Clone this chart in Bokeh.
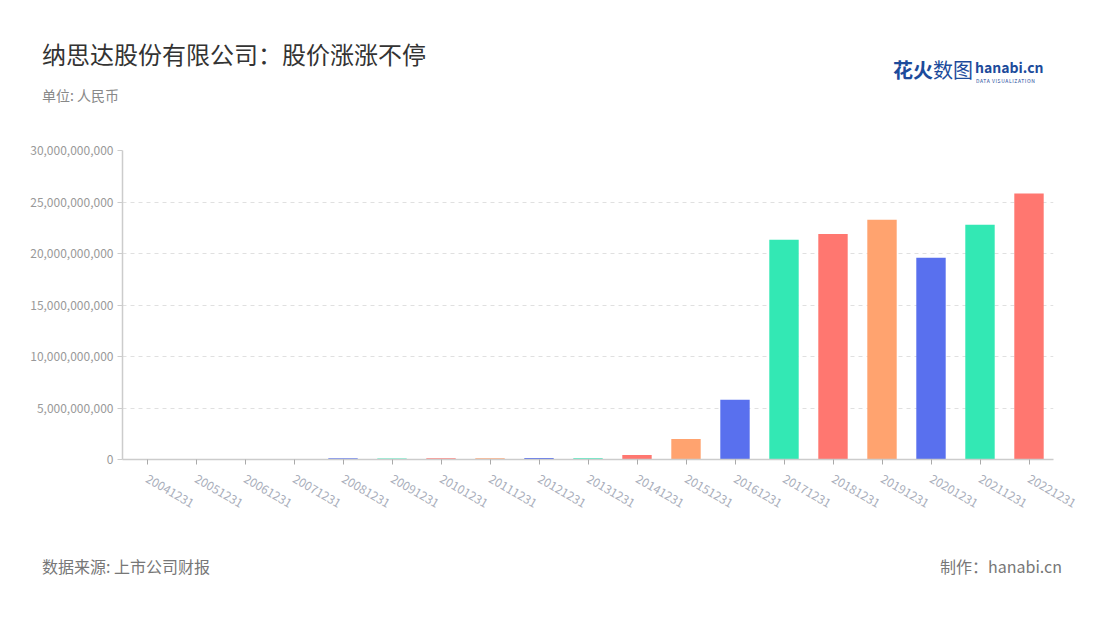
import math
from bokeh.plotting import figure
from bokeh.layouts import column
from bokeh.models import (ColumnDataSource, FactorRange, Range1d, FixedTicker,
                          NumeralTickFormatter, Div)
from bokeh.embed import file_html
from bokeh.resources import INLINE

# ---- data ----
dates = ["20041231", "20051231", "20061231", "20071231", "20081231", "20091231",
         "20101231", "20111231", "20121231", "20131231", "20141231", "20151231",
         "20161231", "20171231", "20181231", "20191231", "20201231", "20211231",
         "20221231"]
values = [0.05e9, 0.04e9, 0.05e9, 0.06e9, 0.12e9, 0.10e9, 0.11e9, 0.12e9,
          0.15e9, 0.13e9, 0.44e9, 1.99e9, 5.81e9, 21.33e9, 21.90e9, 23.27e9,
          19.58e9, 22.79e9, 25.83e9]
palette = ["#5970ee", "#33e8b4", "#ff7770", "#ffa36f"]
y_ticks = [0, 5e9, 10e9, 15e9, 20e9, 25e9, 30e9]

title_text = "纳思达股份有限公司：股价涨涨不停"
subtitle_text = "单位: 人民币"
source_text = "数据来源: 上市公司财报"
maker_text = "制作：hanabi.cn"

FONT = "Noto Sans CJK SC"
W, H = 1084, 604
HEAD, FOOT = 120, 540                  # page y where header ends / footer starts
FL, FR, FT, FB = 122, 1053, 150, 459   # frame edges in page pixels


def span(text, size, color, left=None, right=None, baseline=0, weight="normal",
         spacing="normal"):
    top = baseline - 0.935 * size
    pos = f"left:{left}px;" if left is not None else f"right:{right}px;"
    return (f'<span style="position:absolute;{pos}top:{top:.1f}px;'
            f"font-family:'{FONT}';font-size:{size}px;line-height:{size}px;"
            f'color:{color};font-weight:{weight};letter-spacing:{spacing};'
            f'white-space:nowrap;">{text}</span>')


def panel(h, spans):
    html = (f'<div style="position:relative;width:{W}px;height:{h}px;'
            f'margin:0;padding:0;overflow:hidden;">' + "".join(spans) + "</div>")
    return Div(text=html, width=W, height=h, margin=(0, 0, 0, 0))


# ---- header ----
head = panel(HEAD, [
    span(title_text, 24, "#333333", left=42, baseline=64),
    span(subtitle_text, 14, "#888888", left=42, baseline=101),
    span("花火", 20, "#1d4b9b", left=893, baseline=79, weight="bold"),
    span("数图", 20, "#1d4b9b", left=933, baseline=79),
    span("hanabi.cn", 14, "#1d4b9b", left=975, baseline=73, weight="bold"),
    span("DATA VISUALIZATION", 5, "#1d4b9b", left=976, baseline=83,
         spacing="0.6px"),
])

# ---- main chart ----
MH = FOOT - HEAD
colors = [palette[i % 4] for i in range(len(dates))]
src = ColumnDataSource(dict(x=dates, top=values, color=colors))

p = figure(width=W, height=MH, output_backend="svg", toolbar_location=None,
           x_range=FactorRange(*dates, range_padding=0),
           y_range=Range1d(0, 30e9),
           min_border_left=FL, min_border_right=W - FR,
           min_border_top=FT - HEAD, min_border_bottom=FOOT - FB,
           margin=(0, 0, 0, 0))
p.outline_line_color = None
p.background_fill_color = "white"
p.border_fill_color = "white"

p.vbar(x="x", top="top", width=0.6, color="color", source=src, line_color=None)

p.yaxis.ticker = FixedTicker(ticks=y_ticks)
p.yaxis.formatter = NumeralTickFormatter(format="0,0")
p.yaxis.axis_line_color = "#cccccc"
p.yaxis.axis_line_width = 1.5
p.yaxis.major_tick_line_color = "#cccccc"
p.yaxis.major_tick_out = 5
p.yaxis.major_tick_in = 0
p.yaxis.minor_tick_line_color = None
p.yaxis.major_label_text_color = "#999999"
p.yaxis.major_label_text_font = FONT
p.yaxis.major_label_text_font_size = "12px"
p.yaxis.major_label_standoff = 4

p.xaxis.axis_line_color = "#cccccc"
p.xaxis.axis_line_width = 1.5
p.xaxis.major_tick_line_color = "#aaaaaa"
p.xaxis.major_tick_out = 5
p.xaxis.major_tick_in = 0
p.xaxis.minor_tick_line_color = None
p.xaxis.major_label_orientation = -math.pi / 6
p.xaxis.major_label_text_color = "#a9aebb"
p.xaxis.major_label_text_font = FONT
p.xaxis.major_label_text_font_size = "12px"
p.xaxis.major_label_standoff = 13

p.xgrid.grid_line_color = None
p.ygrid.grid_line_color = "#e0e0e0"
p.ygrid.grid_line_dash = "4 4"

# ---- footer ----
foot = panel(H - FOOT, [
    span(source_text, 16, "#777777", left=42, baseline=573 - FOOT),
    span(maker_text, 16, "#777777", right=W - 1062, baseline=573 - FOOT),
])

layout = column(head, p, foot, spacing=0)
open("out.html", "w").write(file_html(layout, INLINE))
